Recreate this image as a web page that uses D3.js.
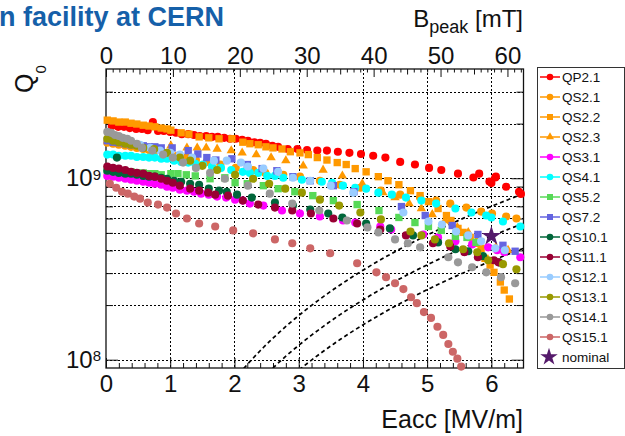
<!DOCTYPE html>
<html>
<head>
<meta charset="utf-8">
<script src="https://cdn.jsdelivr.net/npm/d3@7"></script>
<style>
  body { margin: 0; background: #fff; }
  svg { display: block; font-family: "Liberation Sans", Arial, Helvetica, sans-serif; }
</style>
</head>
<body>
<svg id="chart" width="625" height="436"></svg>
<script>
// ---- Q0 vs Eacc measurements, [Eacc (MV/m), Q0] ----
const qp21 = [[0.09,1.94e9],[0.19,1.92e9],[0.28,1.92e9],[0.37,1.89e9],[0.47,1.87e9],[0.56,1.87e9],[0.65,1.84e9],[0.73,2.04e9],[0.81,1.82e9],[0.90,1.82e9],[1.00,1.80e9],[1.09,1.78e9],[1.18,1.75e9],[1.28,1.75e9],[1.37,1.73e9],[1.46,1.71e9],[1.56,1.71e9],[1.65,1.69e9],[1.74,1.69e9],[1.84,1.67e9],[1.93,1.65e9],[2.02,1.65e9],[2.12,1.63e9],[2.21,1.61e9],[2.31,1.58e9],[2.40,1.57e9],[2.49,1.55e9],[2.59,1.51e9],[2.68,1.49e9],[2.83,1.45e9],[2.98,1.45e9],[3.13,1.43e9],[3.29,1.42e9],[3.44,1.42e9],[3.61,1.40e9],[3.79,1.38e9],[3.97,1.36e9],[4.16,1.33e9],[4.35,1.30e9],[4.58,1.23e9],[4.81,1.19e9],[5.03,1.14e9],[5.22,1.11e9],[5.48,1.06e9],[5.72,1.01e9],[5.81,1.06e9],[5.97,9.6e8],[6.00,9.4e8],[6.06,1.01e9],[6.07,1.02e9],[6.23,8.98e8],[6.43,8.43e8],[6.46,8.2e8]];
const qs21 = [[0.02,1.57e9],[0.11,1.55e9],[0.20,1.53e9],[0.30,1.51e9],[0.39,1.49e9],[0.48,1.47e9],[0.58,1.45e9],[0.67,1.43e9],[0.78,1.42e9],[0.89,1.38e9],[1.00,1.36e9],[1.11,1.33e9],[1.25,1.30e9],[1.40,1.26e9],[1.57,1.23e9],[1.78,1.19e9],[2.02,1.14e9],[2.29,1.11e9],[2.48,1.07e9],[2.76,1.045e9],[3.02,1.02e9],[3.33,9.69e8],[3.64,9.21e8],[3.96,8.87e8],[4.28,8.54e8],[4.58,8.12e8],[4.89,7.82e8],[5.14,7.53e8],[5.36,7.25e8],[5.61,6.89e8],[5.84,6.55e8],[6.01,6.39e8],[6.23,6.15e8],[6.39,6.00e8]];
const qs22 = [[0.02,2.09e9],[0.11,2.07e9],[0.20,2.04e9],[0.30,2.04e9],[0.39,2.01e9],[0.48,1.99e9],[0.58,1.96e9],[0.67,1.94e9],[0.76,1.92e9],[0.86,1.89e9],[0.95,1.87e9],[1.01,1.84e9],[1.17,1.78e9],[1.29,1.75e9],[1.45,1.69e9],[1.60,1.67e9],[1.76,1.65e9],[1.96,1.65e9],[2.13,1.58e9],[2.24,1.55e9],[2.37,1.53e9],[2.49,1.49e9],[2.60,1.47e9],[2.74,1.45e9],[2.87,1.40e9],[3.02,1.38e9],[3.15,1.35e9],[3.29,1.30e9],[3.44,1.26e9],[3.60,1.22e9],[3.74,1.19e9],[3.88,1.13e9],[4.05,1.085e9],[4.24,1.02e9],[4.39,9.69e8],[4.56,9.21e8],[4.74,8.54e8],[4.89,8.02e8],[5.02,7.43e8],[5.17,6.81e8],[5.30,6.23e8],[5.37,5.85e8],[5.48,5.29e8],[5.56,5.03e8],[5.67,4.72e8],[5.75,4.38e8],[5.84,4.11e8],[5.90,3.62e8],[5.98,3.32e8],[6.04,3.03e8],[6.14,2.68e8],[6.20,2.42e8],[6.28,2.16e8]];
const qs23 = [[1.01,1.51e9],[1.26,1.47e9],[1.42,1.47e9],[1.56,1.47e9],[1.73,1.45e9],[1.95,1.42e9],[2.12,1.38e9],[2.34,1.35e9],[2.57,1.30e9],[2.80,1.25e9],[3.07,1.17e9],[3.38,1.11e9],[3.68,1.03e9],[3.99,9.33e8],[4.31,8.33e8],[4.50,7.82e8],[4.72,7.25e8],[4.91,6.81e8],[5.08,6.31e8],[5.28,5.85e8],[5.47,5.36e8],[5.64,5.03e8],[5.79,4.66e8],[6.07,4.16e8],[6.26,4.01e8]];
const qs31 = [[0.02,1.03e9],[0.11,1.02e9],[0.20,1.006e9],[0.30,9.94e8],[0.39,9.81e8],[0.48,9.69e8],[0.58,9.57e8],[0.67,9.45e8],[0.76,9.33e8],[0.86,9.21e8],[0.95,8.98e8],[1.04,8.87e8],[1.15,8.65e8],[1.26,8.54e8],[1.37,8.43e8],[1.48,8.22e8],[1.60,8.12e8],[1.73,7.92e8],[1.87,7.82e8],[2.01,7.62e8],[2.13,7.53e8],[2.24,7.25e8],[2.45,7.07e8],[2.74,6.64e8],[3.02,6.39e8],[3.33,6.15e8],[3.69,5.85e8],[3.88,5.70e8],[4.27,5.42e8],[4.44,5.22e8],[4.94,4.90e8],[5.17,4.72e8],[5.44,4.49e8],[5.70,4.32e8],[5.95,4.16e8],[6.09,4.01e8],[6.20,3.91e8],[6.45,3.67e8]];
const qs41 = [[0.02,1.35e9],[0.11,1.35e9],[0.20,1.33e9],[0.30,1.33e9],[0.39,1.33e9],[0.48,1.31e9],[0.58,1.31e9],[0.67,1.30e9],[0.76,1.30e9],[0.86,1.28e9],[0.95,1.28e9],[1.06,1.25e9],[1.17,1.23e9],[1.28,1.22e9],[1.39,1.20e9],[1.51,1.19e9],[1.65,1.16e9],[1.79,1.14e9],[1.95,1.11e9],[2.13,1.085e9],[2.24,1.07e9],[2.37,1.07e9],[2.51,1.03e9],[2.63,1.03e9],[2.76,1.006e9],[3.05,9.81e8],[3.36,9.57e8],[3.52,9.45e8],[3.69,9.10e8],[3.88,8.87e8],[4.05,8.76e8],[4.24,8.33e8],[4.45,8.12e8],[4.67,7.82e8],[4.91,7.53e8],[5.14,7.25e8],[5.44,6.81e8],[5.69,6.47e8],[5.92,6.23e8],[6.00,6.08e8],[6.18,5.78e8],[6.45,5.42e8]];
const qs52 = [[0.02,1.11e9],[0.11,1.10e9],[0.20,1.10e9],[0.30,1.085e9],[0.39,1.085e9],[0.48,1.07e9],[0.58,1.07e9],[0.67,1.06e9],[0.76,1.06e9],[0.86,1.045e9],[1.01,1.06e9],[1.12,1.06e9],[1.25,1.045e9],[1.39,1.03e9],[1.62,9.94e8],[1.85,1.006e9],[2.01,9.45e8],[2.20,9.33e8],[2.45,9.10e8],[2.68,8.76e8],[2.94,8.43e8],[3.22,8.02e8],[3.54,7.53e8],[3.91,7.16e8],[4.25,6.64e8],[4.56,6.08e8],[4.81,5.70e8],[5.02,5.42e8],[5.22,5.16e8],[5.44,4.78e8],[5.62,4.72e8],[5.76,4.43e8]];
const qs72 = [[0.02,1.61e9],[0.11,1.58e9],[0.20,1.57e9],[0.30,1.55e9],[0.39,1.53e9],[0.48,1.53e9],[0.58,1.51e9],[0.67,1.49e9],[0.76,1.49e9],[0.86,1.47e9],[1.03,1.47e9],[1.28,1.42e9],[1.43,1.36e9],[1.57,1.30e9],[1.71,1.26e9],[1.96,1.28e9],[2.20,1.19e9],[2.43,1.13e9],[2.66,1.10e9],[2.91,1.02e9],[3.18,9.69e8],[3.54,9.10e8],[3.86,8.43e8],[4.60,6.98e8],[4.97,6.23e8],[5.39,5.49e8],[5.79,4.90e8],[6.18,4.27e8],[6.37,3.96e8]];
const qs101 = [[0.02,1.10e9],[0.11,1.085e9],[0.17,1.30e9],[0.20,1.07e9],[0.30,1.06e9],[0.39,1.06e9],[0.48,1.045e9],[0.58,1.03e9],[0.67,1.02e9],[0.76,1.02e9],[0.86,1.006e9],[0.95,9.94e8],[1.06,9.69e8],[1.17,9.57e8],[1.31,9.33e8],[1.45,9.21e8],[1.60,8.76e8],[1.76,8.54e8],[1.88,8.43e8],[2.04,8.12e8],[2.27,7.82e8],[2.63,7.34e8],[2.91,7.07e8],[3.18,6.72e8],[3.46,6.39e8],[3.68,6.08e8],[4.05,5.63e8],[4.42,5.29e8],[4.78,4.84e8],[5.17,4.43e8],[5.44,4.06e8],[5.64,3.96e8],[5.87,3.72e8],[6.12,3.44e8]];
const qs111 = [[0.02,1.16e9],[0.11,1.14e9],[0.20,1.13e9],[0.30,1.11e9],[0.39,1.085e9],[0.48,1.07e9],[0.58,1.06e9],[0.67,1.03e9],[0.76,1.02e9],[0.86,9.94e8],[0.95,9.69e8],[1.04,9.45e8],[1.15,9.10e8],[1.31,8.76e8],[1.45,8.54e8],[1.59,8.33e8],[1.70,8.12e8],[1.90,8.02e8],[2.13,7.53e8],[2.37,7.16e8],[2.63,6.89e8],[2.90,6.64e8],[3.19,6.39e8],[3.54,6.00e8],[3.91,5.63e8],[4.27,5.22e8],[4.67,4.84e8],[5.09,4.38e8],[5.36,4.21e8],[5.58,3.91e8],[5.79,3.67e8],[6.04,3.53e8],[6.11,3.44e8]];
const qs121 = [[0.06,1.67e9],[0.22,1.63e9],[0.37,1.58e9],[0.53,1.53e9],[0.69,1.47e9],[0.84,1.42e9],[1.00,1.38e9],[1.15,1.35e9],[1.34,1.30e9],[1.68,1.25e9],[1.88,1.25e9],[2.10,1.22e9],[2.21,1.16e9],[2.45,1.13e9],[2.68,1.085e9],[2.91,1.006e9],[3.18,9.69e8],[3.50,9.10e8],[3.85,8.33e8],[4.63,6.47e8],[5.02,5.78e8],[5.23,5.56e8],[5.45,5.09e8],[5.64,4.84e8],[5.84,4.49e8],[6.06,4.11e8],[6.21,4.01e8]];
const qs131 = [[0.02,1.65e9],[0.11,1.61e9],[0.20,1.58e9],[0.30,1.55e9],[0.39,1.53e9],[0.48,1.51e9],[0.58,1.47e9],[0.75,1.45e9],[0.95,1.38e9],[1.15,1.30e9],[1.31,1.25e9],[1.50,1.17e9],[1.73,1.11e9],[2.01,1.045e9],[2.29,9.94e8],[2.54,9.33e8],[2.79,8.76e8],[3.05,8.33e8],[3.33,7.62e8],[3.63,7.07e8],[3.96,6.47e8],[4.28,5.93e8],[4.74,5.09e8],[4.91,4.84e8],[5.12,4.60e8],[5.34,4.38e8],[5.56,4.06e8],[5.78,3.91e8],[5.95,3.53e8],[6.18,3.36e8],[6.39,3.15e8]];
const qs141 = [[0.02,1.80e9],[0.08,1.78e9],[0.14,1.73e9],[0.20,1.71e9],[0.26,1.67e9],[0.33,1.65e9],[0.39,1.61e9],[0.48,1.55e9],[0.56,1.47e9],[0.72,1.42e9],[0.89,1.35e9],[1.04,1.30e9],[1.20,1.22e9],[1.40,1.14e9],[1.62,1.07e9],[1.85,9.94e8],[2.21,9.10e8],[2.55,8.22e8],[2.90,7.25e8],[3.32,6.64e8],[3.75,5.85e8],[4.07,5.36e8],[4.24,5.03e8],[4.50,4.60e8],[4.70,4.38e8],[4.89,4.16e8],[5.33,3.67e8],[5.48,3.44e8],[5.70,3.23e8],[5.92,3.03e8],[6.15,2.85e8],[6.37,2.64e8]];
const qs151 = [[0.06,9.33e8],[0.16,8.87e8],[0.25,8.43e8],[0.34,8.22e8],[0.44,7.92e8],[0.53,7.72e8],[0.65,7.34e8],[0.81,7.16e8],[0.95,6.89e8],[1.09,6.39e8],[1.26,6.00e8],[1.45,5.63e8],[1.70,5.42e8],[1.98,5.16e8],[2.29,4.97e8],[2.63,4.60e8],[2.90,4.38e8],[3.18,4.11e8],[3.49,3.86e8],[3.91,3.40e8],[4.21,3.03e8],[4.36,2.85e8],[4.50,2.64e8],[4.63,2.45e8],[4.75,2.21e8],[4.84,2.05e8],[4.95,1.83e8],[5.06,1.70e8],[5.16,1.52e8],[5.25,1.37e8],[5.33,1.22e8],[5.40,1.106e8],[5.47,1.013e8],[5.53,9.16e7]];

const seriesNames  = ["QP2.1","QS2.1","QS2.2","QS2.3","QS3.1","QS4.1","QS5.2","QS7.2","QS10.1","QS11.1","QS12.1","QS13.1","QS14.1","QS15.1"];
const seriesData   = [qp21, qs21, qs22, qs23, qs31, qs41, qs52, qs72, qs101, qs111, qs121, qs131, qs141, qs151];
const seriesColors = ["#ff0000","#ff9900","#ff9900","#ff9900","#ff00ff","#00ffff","#57d957","#6464e0","#00663a","#990033","#99ccff","#999900","#999999","#cc6666"];
const seriesShapes = ["circle","circle","square","triangle","circle","circle","square","square","circle","circle","circle","circle","circle","circle"];

// nominal operating point
const nominalPoint = [6.0, 4.8e8];
// constant-dissipated-power lines, given by their Q0 at 6 MV/m (Q0 grows as Eacc^2)
const isoPowerQ6 = [7.0e8, 4.8e8, 3.5e8];

// axes
const eaccTicks  = [0, 1, 2, 3, 4, 5, 6];
const bpeakTicks = [0, 10, 20, 30, 40, 50, 60];
const q0Ticks    = [1e8, 1e9];
const q0Grid     = [1e8, 2e8, 3e8, 4e8, 5e8, 6e8, 7e8, 8e8, 9e8, 1e9, 2e9, 3e9];
const bpPerEacc  = 9.6; // mT per MV/m

// ---- layout ----
const svg = d3.select("#chart");
const P = { left: 106, right: 523.5, top: 69, bottom: 368 };

const x    = d3.scaleLinear().domain([0, 6.5]).range([P.left, P.right]);
const xTop = d3.scaleLinear().domain([0, 6.5 * bpPerEacc]).range([P.left, P.right]);
const y    = d3.scaleLog().domain([9e7, 4e9]).range([P.bottom, P.top]);

svg.append("rect").attr("width", 625).attr("height", 436).attr("fill", "#fff");

// slide title fragment
svg.append("text")
  .attr("x", -1).attr("y", 26)
  .attr("font-size", 27).attr("font-weight", "bold")
  .attr("fill", "#1560a9")
  .text("n facility at CERN");

// ---- grid ----
const grid = svg.append("g").attr("stroke", "#000").attr("stroke-width", 1).attr("stroke-dasharray", "2,2");
grid.selectAll(".gx").data(eaccTicks.filter(d => d > 0)).join("line")
  .attr("x1", d => Math.round(x(d)) + 0.5).attr("x2", d => Math.round(x(d)) + 0.5)
  .attr("y1", P.top).attr("y2", P.bottom);
grid.selectAll(".gy").data(q0Grid).join("line")
  .attr("x1", P.left).attr("x2", P.right)
  .attr("y1", d => Math.round(y(d)) + 0.5).attr("y2", d => Math.round(y(d)) + 0.5);

// ---- axes ----
function clean(g) { g.select(".domain").remove(); g.selectAll("line").attr("stroke", "#111"); }

const eaccMinor = d3.range(0, 6.51, 0.2).filter(d => Math.abs(d - Math.round(d)) > 0.01);
svg.append("g").attr("transform", `translate(0,${P.bottom})`)
  .call(d3.axisBottom(x).tickValues(eaccMinor).tickSize(-5).tickFormat(""))
  .call(clean);
svg.append("g").attr("transform", `translate(0,${P.bottom})`)
  .call(d3.axisBottom(x).tickValues(eaccTicks).tickSize(-10).tickPadding(7).tickFormat(d3.format("d")))
  .call(clean)
  .call(g => g.selectAll("text").attr("font-size", 24).attr("fill", "#111").attr("font-family", null));

const bpMinor = d3.range(1, 63).filter(d => d % 5 !== 0);
const bpMid = d3.range(5, 63, 10);
svg.append("g").attr("transform", `translate(0,${P.top})`)
  .call(d3.axisTop(xTop).tickValues(bpMinor).tickSize(-3.5).tickFormat(""))
  .call(clean);
svg.append("g").attr("transform", `translate(0,${P.top})`)
  .call(d3.axisTop(xTop).tickValues(bpMid).tickSize(-5.5).tickFormat(""))
  .call(clean);
svg.append("g").attr("transform", `translate(0,${P.top})`)
  .call(d3.axisTop(xTop).tickValues(bpeakTicks).tickSize(-8).tickPadding(5).tickFormat(d3.format("d")))
  .call(clean)
  .call(g => g.selectAll("text").attr("font-size", 24).attr("fill", "#111").attr("font-family", null));

const q0Minor = q0Grid.filter(d => !q0Ticks.includes(d));
[["axisLeft", P.left], ["axisRight", P.right]].forEach(([fn, pos]) => {
  svg.append("g").attr("transform", `translate(${pos},0)`)
    .call(d3[fn](y).tickValues(q0Minor).tickSize(-7).tickFormat(""))
    .call(clean);
  svg.append("g").attr("transform", `translate(${pos},0)`)
    .call(d3[fn](y).tickValues(q0Ticks).tickSize(-12).tickFormat(""))
    .call(clean);
});

// 10^n labels
svg.append("g").attr("transform", `translate(${P.left},0)`)
  .call(d3.axisLeft(y).tickValues(q0Ticks).tickSize(0).tickPadding(5)
    .tickFormat(""))
  .call(g => g.select(".domain").remove())
  .call(g => g.selectAll(".tick text").each(function (d) {
    const t = d3.select(this).attr("font-size", 24).attr("fill", "#111").attr("font-family", null);
    t.append("tspan").text("10");
    t.append("tspan").attr("dy", "-0.45em").attr("font-size", 15).text(Math.round(Math.log10(d)));
  }));

// frame
svg.append("rect")
  .attr("x", P.left).attr("y", P.top)
  .attr("width", P.right - P.left).attr("height", P.bottom - P.top)
  .attr("fill", "none").attr("stroke", "#111").attr("stroke-width", 1.3);

// axis titles
svg.append("text").attr("x", 523).attr("y", 428).attr("text-anchor", "end")
  .attr("font-size", 25).attr("fill", "#111").text("Eacc [MV/m]");

const bt = svg.append("text").attr("x", 523).attr("y", 27).attr("text-anchor", "end")
  .attr("font-size", 24).attr("fill", "#111");
bt.append("tspan").text("B");
bt.append("tspan").attr("font-size", 18).attr("dy", 6).text("peak");
bt.append("tspan").attr("dy", -6).text(" [mT]");

const qt = svg.append("text").attr("transform", "translate(33,93) rotate(-90)")
  .attr("font-size", 25).attr("fill", "#111");
qt.append("tspan").text("Q");
qt.append("tspan").attr("font-size", 15).attr("dy", 13).text("0");

// ---- constant power lines ----
svg.append("clipPath").attr("id", "plotClip").append("rect")
  .attr("x", P.left).attr("y", P.top).attr("width", P.right - P.left).attr("height", P.bottom - P.top);

const eSamples = d3.range(1.5, 6.5001, 0.05);
const powerLine = d3.line().x(d => x(d[0])).y(d => y(d[1]));
svg.append("g").attr("clip-path", "url(#plotClip)")
  .selectAll("path").data(isoPowerQ6).join("path")
  .attr("d", q6 => powerLine(eSamples.map(e => [e, q6 * (e / 6) * (e / 6)])))
  .attr("fill", "none").attr("stroke", "#000").attr("stroke-width", 1.7)
  .attr("stroke-dasharray", "4,3");

// ---- markers ----
const symType = { circle: d3.symbolCircle, square: d3.symbolSquare, triangle: d3.symbolTriangle };
const symSize = { circle: 52, square: 54, triangle: 38 };
const legSize = { circle: 34, square: 36, triangle: 28 };

const pts = svg.append("g");
seriesData.forEach((data, i) => {
  const shape = seriesShapes[i];
  pts.append("g").selectAll("path").data(data).join("path")
    .attr("transform", d => `translate(${x(d[0])},${y(d[1])})`)
    .attr("d", d3.symbol(symType[shape], symSize[shape]))
    .attr("fill", seriesColors[i]);
});
pts.append("path")
  .attr("transform", `translate(${x(nominalPoint[0])},${y(nominalPoint[1])})`)
  .attr("d", d3.symbol(d3.symbolStar, 120))
  .attr("fill", "#551a6b");

// ---- legend ----
const L = { x: 537, y: 67, w: 87, h: 301, row0: 77, step: 20 };
const leg = svg.append("g");
leg.append("rect").attr("x", L.x + 0.5).attr("y", L.y + 0.5).attr("width", L.w).attr("height", L.h)
  .attr("fill", "#fff").attr("stroke", "#333").attr("stroke-width", 1);

seriesNames.forEach((name, i) => {
  const cy = L.row0 + i * L.step;
  const shape = seriesShapes[i];
  leg.append("line").attr("x1", 540).attr("x2", 560).attr("y1", cy).attr("y2", cy)
    .attr("stroke", seriesColors[i]).attr("stroke-width", 1.5);
  leg.append("path").attr("transform", `translate(550,${cy})`)
    .attr("d", d3.symbol(symType[shape], legSize[shape])).attr("fill", seriesColors[i]);
  leg.append("text").attr("x", 562).attr("y", cy).attr("dy", "0.36em")
    .attr("font-size", 13.5).attr("fill", "#111").text(name);
});
const nomY = L.row0 + seriesNames.length * L.step;
leg.append("path").attr("transform", `translate(549,${nomY})`)
  .attr("d", d3.symbol(d3.symbolStar, 95)).attr("fill", "#551a6b");
leg.append("text").attr("x", 562).attr("y", nomY).attr("dy", "0.36em")
  .attr("font-size", 13.5).attr("fill", "#111").text("nominal");
</script>
</body>
</html>
